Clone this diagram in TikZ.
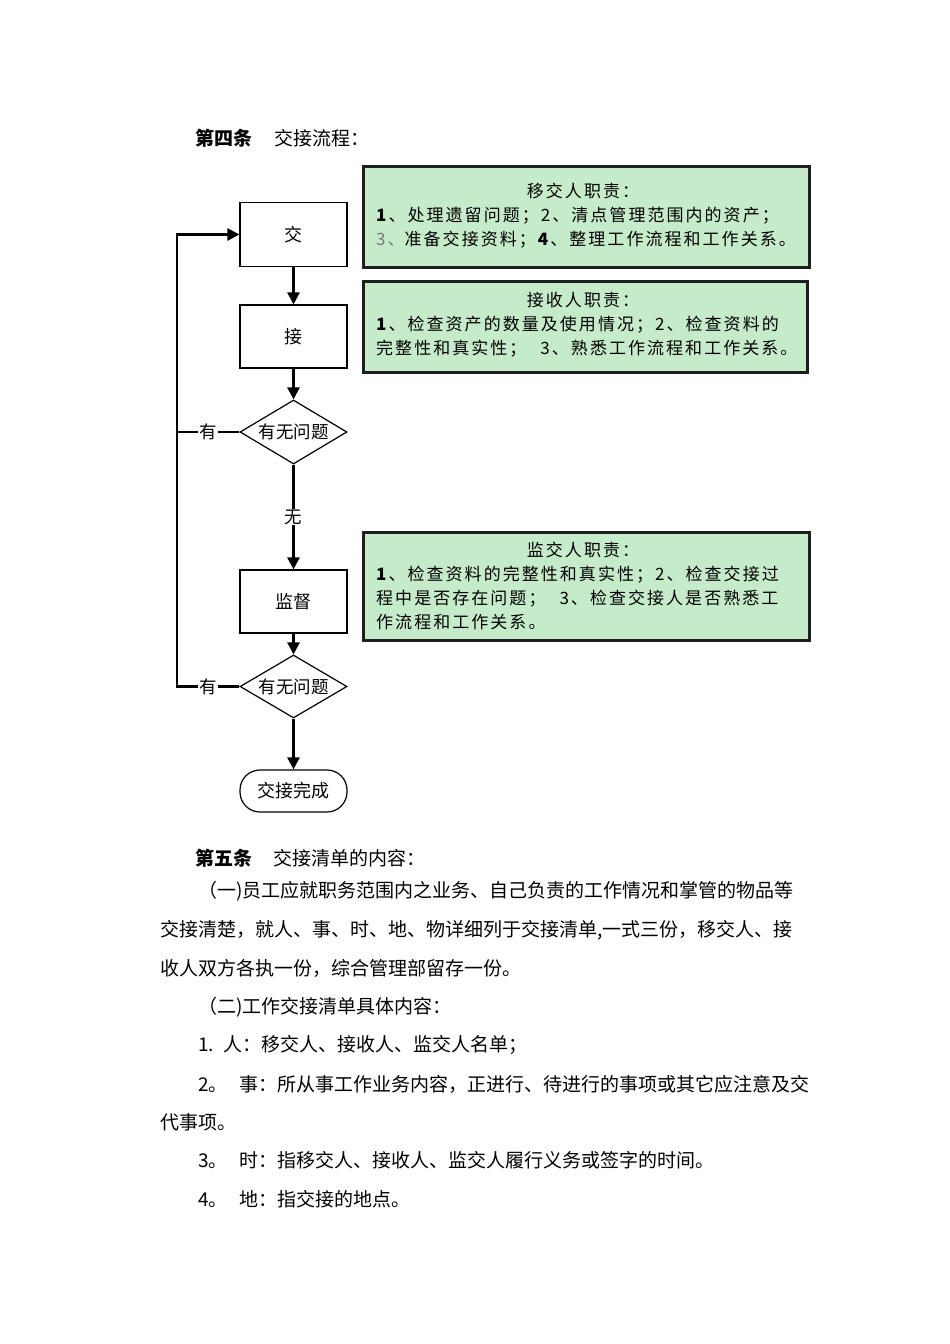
\documentclass[tikz,border=0pt]{standalone}
\usepackage{fontspec}
\setmainfont{Noto Sans CJK SC}
\newfontfamily\boxfont[LetterSpace=12]{Noto Sans CJK SC}
\usetikzlibrary{shapes.geometric,arrows.meta}
\definecolor{boxgreen}{RGB}{198,235,203}
\definecolor{numgray}{RGB}{120,120,120}
\begin{document}
\begin{tikzpicture}[x=1pt,y=-1pt,
  proc/.style={draw,line width=1.2pt,minimum width=107pt,minimum height=64pt,inner sep=0pt,font=\fontsize{18}{18}\selectfont},
  decision/.style={draw,diamond,line width=1.2pt,minimum width=107pt,minimum height=64pt,inner sep=0pt,aspect=1.67,font=\fontsize{17.5}{17.5}\selectfont},
  term/.style={draw,rounded corners=20pt,line width=1.2pt,minimum width=107pt,minimum height=42pt,inner sep=0pt,font=\fontsize{18}{18}\selectfont},
  duty/.style={draw=black!88,line width=2.6pt,fill=boxgreen,inner sep=0pt},
  dutytxt/.style={anchor=west,inner sep=0pt,font=\boxfont\fontsize{17}{17}\selectfont},
  dutyttl/.style={inner sep=0pt,font=\boxfont\fontsize{17}{17}\selectfont},
  flow/.style={line width=2.6pt,line join=miter,-{Triangle[length=12pt,width=12pt]}},
  plain/.style={line width=2.6pt},
  lbl/.style={fill=white,inner sep=1pt,font=\fontsize{17.5}{17.5}\selectfont},
  body/.style={anchor=west,inner sep=0pt,font=\fontsize{19}{19}\selectfont},
]
\useasboundingbox (0,0) rectangle (950,1344);
\fill[white] (0,0) rectangle (950,1344);

% heading
\node[body] (h4a) at (195,138) {\textbf{第四条}};
\node[body] (h4b) at (274,138) {交接流程：};

% flow nodes
\node[proc] (jiao) at (293.5,234.5) {交};
\node[proc,minimum height=63pt] (jie) at (293.5,336.5) {接};
\node[decision] (q1) at (293.5,432) {有无问题};
\node[proc,minimum height=63pt] (jd) at (293.5,601.5) {监督};
\node[decision,minimum height=63pt] (q2) at (293.5,686.5) {有无问题};
\node[term] (done) at (293.5,791) {交接完成};

\coordinate (L1) at (177,432);
\coordinate (L2) at (177,686.5);
\coordinate (Ltop) at (177,234.5);

\draw[flow] (jiao) -- (jie);
\draw[flow] (jie) -- (q1);
\draw[flow] (q1) -- node[lbl] (wu) {无} (jd);
\draw[flow] (jd) -- (q2);
\draw[flow] (q2) -- (done);
\draw[plain] (q1.west) -- node[lbl] (you1) {有} (L1);
\draw[flow] (q2.west) -- node[lbl] (you2) {有} (L2) -- (Ltop) -- (jiao.west);

% duty boxes
\node[duty,minimum width=446pt,minimum height=101pt] (d1) at (586.5,217) {};
\node[dutyttl] (d1t) at (583,191) {移交人职责：};
\node[dutytxt] (d1a) at (376,216) {\textbf{1}、处理遗留问题；2、清点管理范围内的资产；};
\node[dutytxt] (d1b) at (376,240) {\textcolor{numgray}{3、}准备交接资料；\textbf{4}、整理工作流程和工作关系。};

\node[duty,minimum width=444pt,minimum height=91pt] (d2) at (585.5,327) {};
\node[dutyttl] (d2t) at (583,300) {接收人职责：};
\node[dutytxt] (d2a) at (376,325) {\textbf{1}、检查资产的数量及使用情况；2、检查资料的};
\node[dutytxt] (d2b) at (376,349) {完整性和真实性；\hspace{14pt}3、熟悉工作流程和工作关系。};

\node[duty,minimum width=446pt,minimum height=108pt] (d3) at (586.5,586.5) {};
\node[dutyttl] (d3t) at (583,550) {监交人职责：};
\node[dutytxt] (d3a) at (376,575) {\textbf{1}、检查资料的完整性和真实性；2、检查交接过};
\node[dutytxt] (d3b) at (376,599) {程中是否存在问题；\hspace{14pt}3、检查交接人是否熟悉工};
\node[dutytxt] (d3c) at (376,622) {作流程和工作关系。};

% body text
\node[body] (h5a) at (195,858) {\textbf{第五条}};
\node[body] (h5b) at (273,858) {交接清单的内容：};
\node[body] (p1) at (198,891) {（一)员工应就职务范围内之业务、自己负责的工作情况和掌管的物品等};
\node[body] (p2) at (160,930) {交接清楚，就人、事、时、地、物详细列于交接清单,一式三份，移交人、接};
\node[body] (p3) at (160,968) {收人双方各执一份，综合管理部留存一份。};
\node[body] (p4) at (198,1007) {（二)工作交接清单具体内容：};
\node[body] (p5) at (198,1045) {1.\hspace{9pt}人：移交人、接收人、监交人名单；};
\node[body] (p6) at (198,1084) {2。\hspace{12pt}事：所从事工作业务内容，正进行、待进行的事项或其它应注意及交};
\node[body] (p7) at (160,1122) {代事项。};
\node[body] (p8) at (198,1160) {3。\hspace{12pt}时：指移交人、接收人、监交人履行义务或签字的时间。};
\node[body] (p9) at (198,1199) {4。\hspace{12pt}地：指交接的地点。};
\end{tikzpicture}
\end{document}
